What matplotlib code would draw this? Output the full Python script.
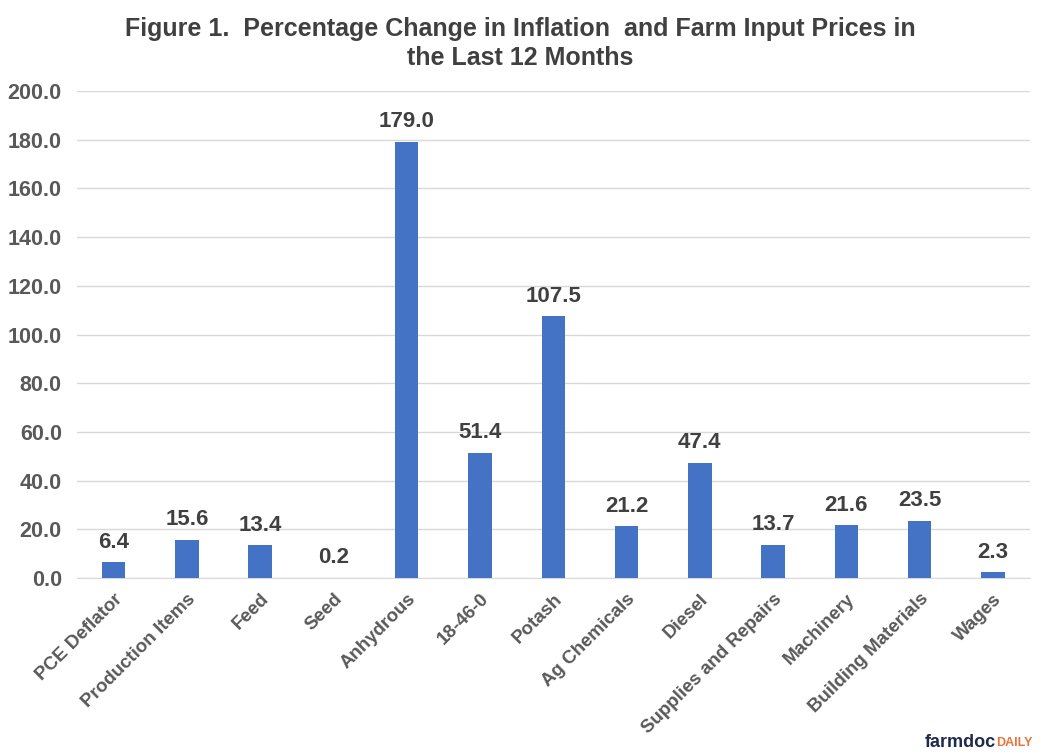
import matplotlib.pyplot as plt
import numpy as np

categorias = ["PCE Deflator", "Production Items", "Feed", "Seed", "Anhydrous",
              "18-46-0", "Potash", "Ag Chemicals", "Diesel",
              "Supplies and Repairs", "Machinery", "Building Materials", "Wages"]
valores = [6.4, 15.6, 13.4, 0.2, 179.0, 51.4, 107.5, 21.2, 47.4, 13.7, 21.6, 23.5, 2.3]
ticks_y = [0, 20, 40, 60, 80, 100, 120, 140, 160, 180, 200]

plt.rcParams['font.family'] = ['Liberation Sans', 'DejaVu Sans']

fig = plt.figure(figsize=(10.41, 7.56), dpi=100)
ax = fig.add_axes([0.074, 0.2354, 0.915, 0.6442])

x = np.arange(len(categorias))
ax.bar(x, valores, width=0.32, color='#4472C4', zorder=3)

for xi, v in zip(x, valores):
    ax.annotate(f"{v:.1f}", (xi, v), xytext=(0, 7), textcoords='offset points',
                ha='center', va='bottom', fontsize=16, fontweight='bold',
                color='#404040')

ax.set_xlim(-0.5, len(categorias) - 0.5)
ax.set_ylim(0, 200)
ax.set_yticks(ticks_y)
ax.set_yticklabels([f"{t:.1f}" for t in ticks_y], fontsize=15.5,
                   fontweight='bold', color='#595959')
ax.yaxis.grid(True, color='#D9D9D9', linewidth=1, zorder=0)
ax.set_xticks(x)
ax.set_xticklabels(categorias, rotation=45, ha='right', rotation_mode='anchor',
                   fontsize=13.5, fontweight='bold', color='#595959')
ax.tick_params(axis='y', length=0, pad=11)
ax.tick_params(axis='x', length=0, pad=9)
for s in ax.spines.values():
    s.set_visible(False)
ax.spines['bottom'].set_visible(True)
ax.spines['bottom'].set_color('#D9D9D9')

fig.text(0.5, 0.978, "Figure 1.  Percentage Change in Inflation  and Farm Input Prices in\nthe Last 12 Months",
         ha='center', va='top', fontsize=18, fontweight='bold', color='#404040',
         linespacing=1.3)

# logo
logo = fig.text(0.888, 0.007, "farmdoc", ha='left', va='bottom', fontsize=13,
                fontweight='bold', color='#1F2A4D')
fig.canvas.draw()
ax.annotate("DAILY", xy=(1, 0), xycoords=logo, xytext=(0.5, 1.5),
            textcoords='offset points', ha='left', va='bottom', fontsize=9,
            fontweight='bold', color='#E8743B', annotation_clip=False)

fig.savefig("out.png", dpi=100)
